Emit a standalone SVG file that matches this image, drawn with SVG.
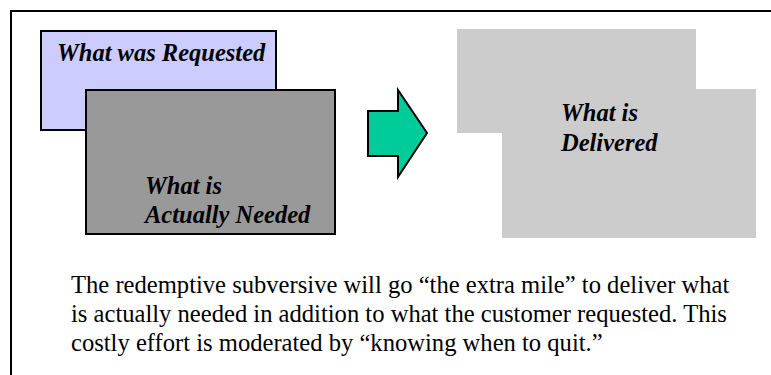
<svg xmlns="http://www.w3.org/2000/svg" width="771" height="375" viewBox="0 0 771 375">
  <style>
    .label { font-family: "Liberation Serif", "Times New Roman", serif; font-weight: bold; font-style: italic; font-size: 24.5px; fill: #000; }
    .body { font-family: "Liberation Serif", "Times New Roman", serif; font-size: 24.6px; fill: #000; }
    .box { stroke: #000; stroke-width: 2; }
  </style>
  <rect width="771" height="375" fill="#fff"/>
  <!-- open frame: only top and left edges -->
  <path d="M11 375 V11 H771" fill="none" stroke="#000" stroke-width="2"/>

  <g id="requested">
    <rect class="box" x="41" y="31" width="235" height="99" fill="#ccccff"/>
    <text class="label" x="57" y="61">What was Requested</text>
  </g>

  <g id="needed">
    <rect class="box" x="86" y="90" width="249" height="144" fill="#999999"/>
    <text class="label" x="145" y="194">What is</text>
    <text class="label" x="145" y="223">Actually Needed</text>
  </g>

  <g id="connectors">
    <path class="box" d="M368 111 H398 V90 L427 133 L398 177 V156 H368 Z" fill="#00cc99" stroke-linejoin="miter"/>
  </g>

  <g id="delivered">
    <path d="M457 29 H696 V89 H756 V238 H502 V133 H457 Z" fill="#cccccc"/>
    <text class="label" x="561" y="121">What is</text>
    <text class="label" x="561" y="151">Delivered</text>
  </g>

  <g id="note">
    <text class="body" x="71" y="293">The redemptive subversive will go “the extra mile” to deliver what</text>
    <text class="body" x="71" y="322">is actually needed in addition to what the customer requested. This</text>
    <text class="body" x="71" y="351">costly effort is moderated by “knowing when to quit.”</text>
  </g>
</svg>
